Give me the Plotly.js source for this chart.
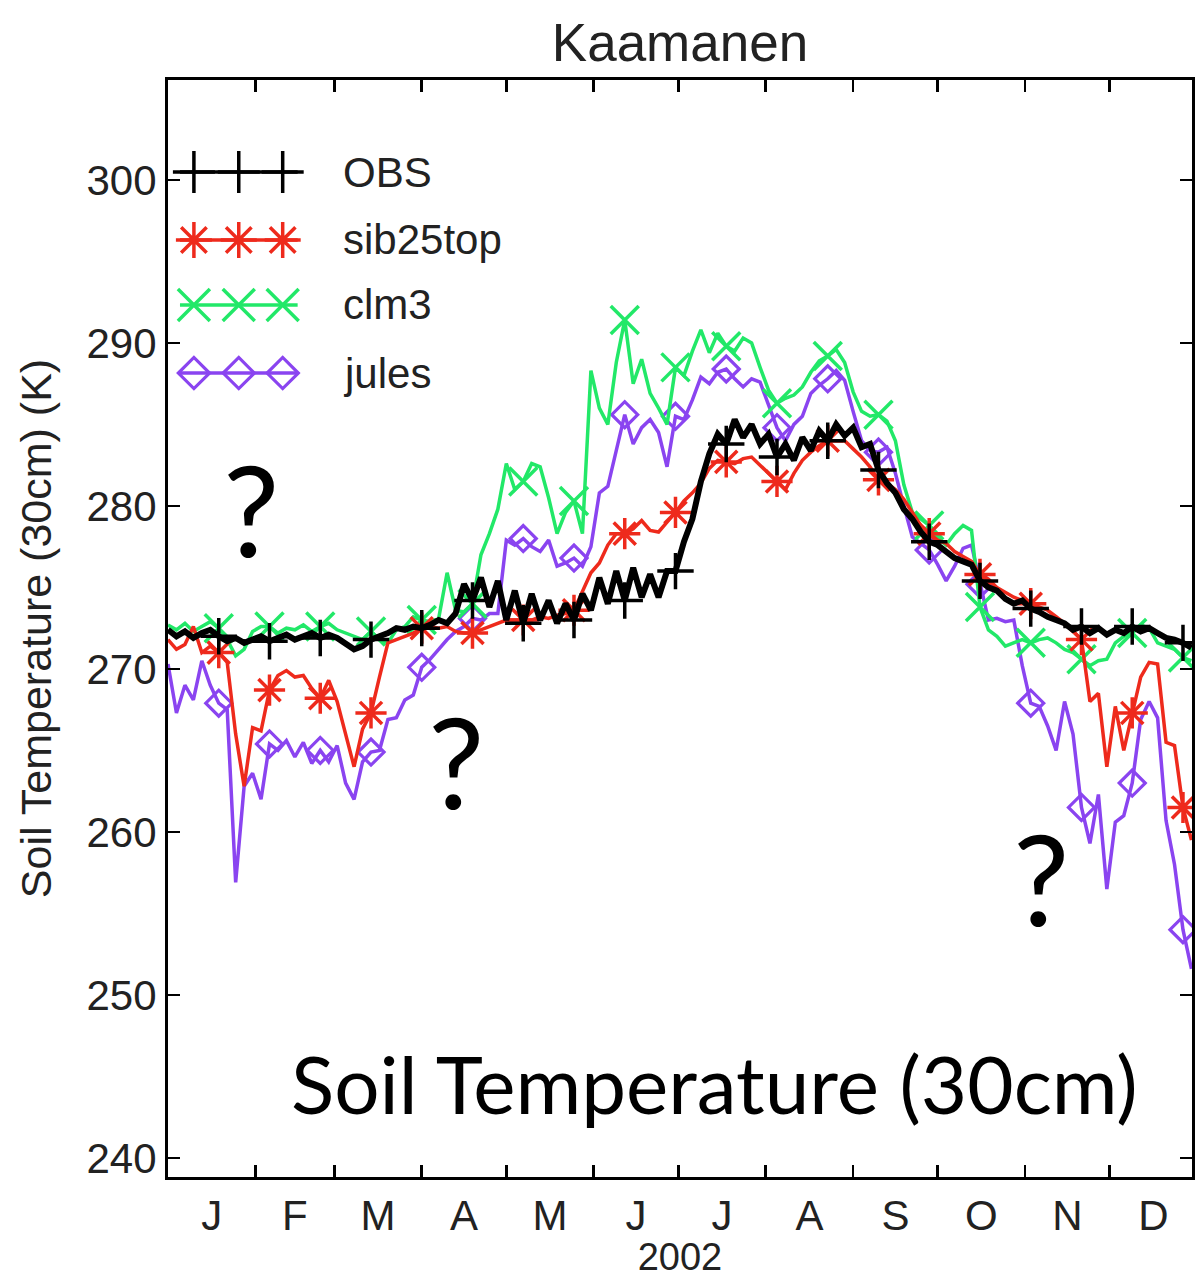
<!DOCTYPE html>
<html><head><meta charset="utf-8">
<script src="https://cdn.plot.ly/plotly-3.0.1.min.js"></script>
<style>html,body{margin:0;padding:0;background:#fff;overflow:hidden}</style>
</head><body><div id="chart" style="width:1195px;height:1278px"></div>
<script>
// ---- data (3-day sampling, day-of-year 0 .. 363, year 2002) ----
const dayStep = 3;
const obs = [
272.4,272.0,272.3,271.9,272.2,272.4,272.0,271.7,271.9,271.6,
271.8,272.0,271.7,271.9,272.1,271.8,272.0,272.2,271.9,272.1,
271.9,271.5,271.2,271.4,271.8,272.0,272.2,272.5,272.4,272.6,
272.5,272.7,273.0,272.8,273.4,275.2,274.2,275.6,273.8,275.4,
273.0,274.8,272.8,274.6,273.0,274.2,272.8,274.0,273.0,274.6,
273.6,275.6,274.0,276.0,274.2,276.2,274.4,275.8,274.4,276.0,
276.0,277.8,279.2,281.5,283.2,284.4,283.8,285.3,284.2,285.0,
283.8,284.4,283.0,283.8,282.8,284.2,283.4,284.6,284.0,285.0,
284.3,284.8,283.6,283.8,282.2,281.4,280.8,279.8,279.2,278.4,
277.8,277.6,277.2,276.8,276.6,276.4,275.4,275.0,274.8,274.3,
274.0,274.2,273.7,273.5,273.2,273.0,272.8,272.4,272.6,272.2,
272.5,272.1,272.4,272.2,272.6,272.3,272.5,272.2,271.9,271.8,
271.6,271.3];
const sib25top = [
271.8,271.2,271.5,272.6,271.0,271.4,271.0,270.4,266.0,262.8,
266.4,266.2,268.7,269.6,269.9,269.5,269.6,268.8,268.2,269.3,
268.0,266.0,264.0,266.3,267.3,269.5,271.6,271.8,272.0,272.2,
272.5,272.6,272.5,272.6,272.3,272.2,272.2,272.4,272.6,272.8,
273.0,273.0,273.0,273.0,273.2,273.1,273.3,273.4,273.6,274.8,
275.9,276.5,277.6,278.3,278.3,278.6,279.1,278.5,278.4,279.0,
279.6,280.3,280.8,281.4,282.3,282.8,282.7,282.6,282.9,283.0,
282.5,282.0,281.5,281.0,282.0,282.8,283.3,283.7,284.0,284.0,
284.0,283.5,283.0,282.4,281.6,281.4,281.0,280.4,279.6,278.8,
278.3,277.9,277.7,277.2,276.9,276.6,275.8,275.5,275.0,274.7,
274.4,274.2,274.0,273.8,273.6,273.2,272.8,272.3,271.8,268.0,
268.5,264.0,267.7,265.0,267.3,269.5,270.4,270.3,265.5,265.3,
261.5,259.5];
const clm3 = [
272.7,272.4,272.8,272.3,272.6,272.9,272.5,271.8,270.8,271.2,
272.3,272.6,272.6,272.2,272.5,272.4,272.7,272.3,272.6,272.8,
272.4,272.2,272.0,271.8,272.3,271.8,271.6,272.4,272.6,273.2,
273.0,272.9,273.1,275.9,273.6,273.5,274.0,277.0,278.3,279.8,
282.6,281.0,281.5,282.6,282.4,280.5,278.3,279.6,280.3,278.3,
288.3,286.0,285.0,288.8,291.4,287.5,289.0,286.9,286.0,285.0,
288.5,288.0,289.5,290.8,289.4,290.6,289.8,289.5,290.3,290.0,
288.5,287.1,286.3,286.6,286.8,287.3,288.2,288.9,289.2,289.6,
288.8,287.0,285.8,285.5,285.6,285.2,284.0,281.3,279.6,279.2,
278.8,278.0,277.6,278.3,278.8,278.5,273.8,272.4,272.0,271.4,
271.6,271.8,271.6,271.8,271.9,271.6,271.2,271.0,270.6,270.2,
270.5,270.6,271.6,272.0,272.2,272.7,272.5,271.6,271.4,271.2,
270.7,270.5];
const jules = [
270.3,267.3,269.0,268.1,270.5,269.0,267.9,267.5,256.9,262.8,
263.6,262.0,265.4,265.0,265.6,264.6,265.5,264.2,265.0,264.3,
265.3,263.0,262.0,264.3,264.9,265.0,266.9,267.0,268.1,268.4,
270.1,270.6,271.2,271.8,272.3,272.6,273.1,273.0,273.4,273.4,
277.9,277.6,278.0,277.5,277.2,277.9,276.3,276.5,276.8,276.3,
277.5,280.8,281.2,283.5,285.6,283.8,284.8,285.3,284.5,282.4,
285.5,285.3,286.5,287.9,287.5,288.2,288.4,287.8,287.3,287.8,
287.6,286.2,284.8,284.0,285.0,285.5,286.9,287.4,287.8,288.3,
287.7,285.8,284.0,283.4,283.3,283.6,282.0,280.0,278.1,277.7,
277.3,276.4,275.4,276.3,277.4,277.6,275.2,273.0,273.1,272.9,
273.0,270.2,267.9,267.7,266.5,265.0,268.0,266.0,261.5,259.3,
262.3,256.5,260.6,261.0,263.0,266.9,268.0,267.0,260.7,258.0,
254.0,251.6];
const seriesNames = ['OBS','sib25top','clm3','jules'];
const monthLabels = ['J','F','M','A','M','J','J','A','S','O','N','D'];
const monthStarts = [0,31,59,90,120,151,181,212,243,273,304,334,365];
const yTicks = [240,250,260,270,280,290,300];

// ---- styling ----
const FONT = 'Liberation Sans, Arial, Helvetica, sans-serif';
const NOTE_FONT = 'Lato, Open Sans, sans-serif';
const styles = [
  {color:'#000000', symbol:'cross-thin-open', size:26, width:6, mlw:3.5, legw:3.5},
  {color:'#ee2a1c', symbol:'asterisk-open', size:26, width:3.5, mlw:3.5, legw:3.5},
  {color:'#22e868', symbol:'x-thin-open', size:28, width:3.5, mlw:3.5, legw:3.5},
  {color:'#8a44f0', symbol:'diamond-open', size:20, width:3.5, mlw:3.2, legw:3.5}
];
const markerEvery = 6;
const days = obs.map((_, i) => i * dayStep);
const monthMid = monthLabels.map((_, k) => (monthStarts[k] + monthStarts[k+1]) / 2);

const data = [obs, sib25top, clm3, jules];
const traces = data.map((vals, s) => ({
  x: days, y: vals, type:'scatter', mode:'lines+markers', name: seriesNames[s],
  line:{color:styles[s].color, width:styles[s].width},
  marker:{symbol:styles[s].symbol, color:styles[s].color, opacity:1,
          size: vals.map((_, i) => (i > 0 && i % markerEvery === 0) ? styles[s].size : 0),
          line:{color:styles[s].color, width:styles[s].mlw}},
  showlegend:false, hoverinfo:'skip'
})).reverse();

// ---- hand-drawn style legend (layout only) ----
const legX = [0.0117, 0.0253, 0.0691, 0.1120, 0.1266];
const legY = [0.9161, 0.8542, 0.7949, 0.7329];
const legendTraces = seriesNames.map((n, s) => ({
  x: legX, y: legX.map(() => legY[s]), xaxis:'x2', yaxis:'y2',
  type:'scatter', mode:'lines+markers', showlegend:false, hoverinfo:'skip',
  line:{color:styles[s].color, width:styles[s].legw},
  marker:{symbol:styles[s].symbol, color:styles[s].color, opacity:1,
          size: legX.map((_, i) => (i === 0 || i === legX.length - 1) ? 0 : styles[s].size + 4),
          line:{color:styles[s].color, width:styles[s].mlw}}
}));

const annotations = seriesNames.map((n, s) => ({
  text:n, xref:'paper', yref:'paper', x:0.1694, y:legY[s], xanchor:'left', yanchor:'middle',
  showarrow:false, font:{family:FONT, size:42, color:'#222'}
}));
[[0.0808,0.609],[0.2814,0.380],[0.853,0.273]].forEach(p => annotations.push({
  text:'?', xref:'paper', yref:'paper', x:p[0], y:p[1], xanchor:'center', yanchor:'middle',
  showarrow:false, font:{family:NOTE_FONT, size:126, color:'#000'}
}));
annotations.push({
  text:'Soil Temperature (30cm)', xref:'paper', yref:'paper', x:0.5336, y:0.086,
  xanchor:'center', yanchor:'middle', showarrow:false,
  font:{family:NOTE_FONT, size:80, color:'#000'}
});

const layout = {
  width:1195, height:1278,
  margin:{l:168, r:0, t:80, b:101, pad:0},
  paper_bgcolor:'#fff', plot_bgcolor:'#fff',
  showlegend:false,
  title:{text:'Kaamanen', font:{family:FONT, size:53, color:'#222'},
         x:0.5, xref:'paper', xanchor:'center', y:1 - 42/1278, yref:'container', yanchor:'middle'},
  xaxis:{
    range:[0, 363.2], tickmode:'array', tickvals:monthMid, ticktext:monthLabels,
    ticks:'', showgrid:false, zeroline:false, showline:true, linecolor:'#000', linewidth:3,
    mirror:'ticks', tickfont:{family:FONT, size:42, color:'#222'}, ticklabelstandoff:0,
    minor:{tickmode:'array', tickvals:monthStarts.slice(1, 12), ticks:'inside', ticklen:12,
           tickwidth:2.5, tickcolor:'#000', showgrid:false},
    title:{text:'2002', font:{family:FONT, size:38, color:'#222'}, standoff:25}
  },
  yaxis:{
    range:[238.83, 306.13], tickmode:'array', tickvals:yTicks, ticks:'inside', ticklen:12,
    tickwidth:2.5, tickcolor:'#000', showline:true, linecolor:'#000', linewidth:3, mirror:'ticks',
    showgrid:false, zeroline:false, tickfont:{family:FONT, size:42, color:'#222'},
    ticklabelstandoff:0, automargin:true,
    title:{text:'Soil Temperature (30cm) (K)', font:{family:FONT, size:43, color:'#222'}, standoff:22}
  },
  xaxis2:{overlaying:'x', range:[0,1], visible:false, fixedrange:true},
  yaxis2:{overlaying:'y', range:[0,1], visible:false, fixedrange:true},
  annotations: annotations
};

Plotly.newPlot('chart', traces.concat(legendTraces), layout, {displayModeBar:false, staticPlot:true});
</script>
</body></html>
